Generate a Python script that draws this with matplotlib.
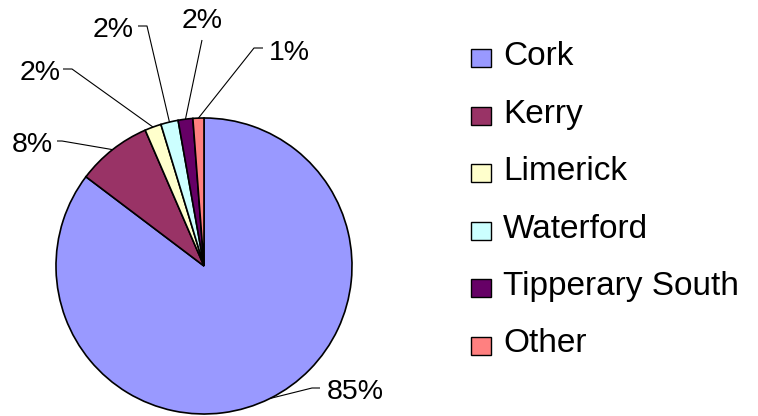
import matplotlib
matplotlib.use("Agg")
import matplotlib.pyplot as plt
from matplotlib.patches import Rectangle
import numpy as np

plt.rcParams['font.family'] = ['Liberation Sans', 'DejaVu Sans']

# Data
categories = ["Cork", "Kerry", "Limerick", "Waterford", "Tipperary South", "Other"]
values = [85.3, 8.2, 1.8, 1.9, 1.6, 1.2]
colors = ["#9999FF", "#993366", "#FFFFCC", "#CCFFFF", "#660066", "#FF8080"]

W, H = 758, 416
CX, CY, R = 204, 266, 148  # pie centre / radius in pixels


def px(x, y):
    """pixel (from top-left) -> data coords (pie radius = 1)"""
    return ((x - CX) / R, (CY - y) / R)


fig = plt.figure(figsize=(W / 100, H / 100), dpi=100)
ax = fig.add_axes([0, 0, 1, 1])

wedges, _ = ax.pie(values, colors=colors, startangle=90, counterclock=False,
                   radius=1, center=(0, 0),
                   wedgeprops=dict(edgecolor='black', linewidth=1.2))
ax.set_xlim(-CX / R, (W - CX) / R)
ax.set_ylim(-(H - CY) / R, CY / R)
ax.set_aspect('equal')
ax.axis('off')

total = sum(values)
# label layout (pixels): text x, baseline y, ha, leader start, leader elbow
layout = [
    (327, 399, 'left', 320, 388, 312, 388),
    (53, 152, 'right', 57, 141, 62, 141),
    (61, 80, 'right', 63, 69, 72, 69),
    (134, 37, 'right', 138, 26, 147, 26),
    (202, 28, 'center', 202, 40, 202, 40),
    (269, 60, 'left', 263, 48, 254, 48),
]
for w, v, (tx, ty, ha, sx, sy, ex, ey) in zip(wedges, values, layout):
    ang = np.deg2rad((w.theta1 + w.theta2) / 2)
    ax_, ay_ = np.cos(ang), np.sin(ang)
    p1 = px(sx, sy)
    p2 = px(ex, ey)
    ax.plot([p1[0], p2[0], ax_], [p1[1], p2[1], ay_], color='black', lw=0.8,
            solid_capstyle='butt')
    t = px(tx, ty)
    ax.text(t[0], t[1], f"{round(v / total * 100):.0f}%", ha=ha,
            va='baseline', fontsize=20.5)

# Legend
for i, (lab, col) in enumerate(zip(categories, colors)):
    base = 65 + i * 57.5
    x0, y0 = px(471, base + 2)
    ax.add_patch(Rectangle((x0, y0), 20 / R, 18 / R, facecolor=col,
                           edgecolor='black', linewidth=1.0))
    tx, ty = px(503, base)
    ax.text(tx, ty, lab, ha='left', va='baseline', fontsize=24)

fig.savefig("out.png", dpi=100)
